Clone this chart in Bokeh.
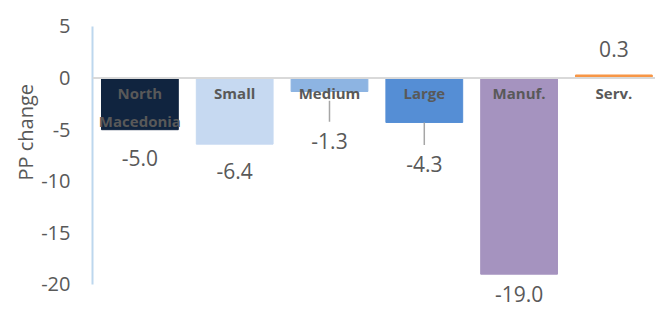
from bokeh.plotting import figure
from bokeh.models import Range1d, Span, Title, FixedTicker, ColumnDataSource
from bokeh.core.properties import value
from bokeh.embed import file_html
from bokeh.resources import INLINE

# ---- data ----
categories = ["North\nMacedonia", "Small", "Medium", "Large", "Manuf.", "Serv."]
pp_change = [-5.0, -6.4, -1.3, -4.3, -19.0, 0.3]
y_ticks = [-20, -15, -10, -5, 0, 5]
y_tick_labels = ["-20", "-15", "-10", "-5", "0", "5"]

# ---- styles ----
bar_colors = ["#10243F", "#C6D9F1", "#8DB4E2", "#558ED5", "#A593BF", "#F79646"]
label_shift = [-2.75, -2.61, -4.78, -4.03, -1.95, 2.51]   # manual label placement (data units)
has_leader = [False, False, True, True, False, False]
FONT = "Open Sans"
TXT = "#595959"

xs = [i + 0.5 for i in range(len(categories))]
label_y = [v + s for v, s in zip(pp_change, label_shift)]
value_txt = [f"{v:.1f}" for v in pp_change]

src = ColumnDataSource(dict(x=xs, top=pp_change, color=bar_colors, cat=categories,
                            ly=label_y, lt=value_txt))

p = figure(width=655, height=310, output_backend="svg", toolbar_location=None,
           x_range=Range1d(0, 5.939), y_range=Range1d(-22.52, 6.55),
           min_border_left=92, min_border_right=0, min_border_top=10, min_border_bottom=0)
p.outline_line_color = None
p.grid.visible = False
p.xaxis.visible = False
p.background_fill_color = "white"

yax = p.yaxis[0]
yax.ticker = FixedTicker(ticks=y_ticks)
yax.major_label_overrides = {t: s for t, s in zip(y_ticks, y_tick_labels)}
yax.bounds = (-20, 5)
yax.axis_line_color = "#BDD7EE"
yax.axis_line_width = 2
yax.major_tick_line_color = None
yax.minor_tick_line_color = None
yax.major_tick_in = 0
yax.major_tick_out = 0
yax.major_label_standoff = 22
yax.major_label_text_font = FONT
yax.major_label_text_font_size = "20px"
yax.major_label_text_color = TXT

p.vbar(x="x", top="top", bottom=0, width=0.81, color="color", source=src)

p.add_layout(Span(location=0, dimension="width", line_color="#D9D9D9", line_width=2))

# leader lines
lx, l0, l1 = [], [], []
for x, v, ly, hl in zip(xs, pp_change, label_y, has_leader):
    if hl:
        lx.append(x)
        l0.append(min(v, -2.2))
        l1.append(ly + 1.85)
p.segment(x0=lx, x1=lx, y0=l0, y1=l1, line_color="#A6A6A6", line_width=1.5)

# category names inside bars
p.text(x="x", y=0, text="cat", source=src, y_offset=5, text_align="center",
       text_baseline="top", text_font=value(FONT), text_font_style="bold",
       text_font_size="15px", text_color=TXT, text_line_height=1.4)

# value labels
p.text(x="x", y="ly", text="lt", source=src, text_align="center",
       text_baseline="middle", text_font=value(FONT), text_font_size="21px",
       text_color=TXT)

p.add_layout(Title(text="PP change", align="left", offset=130, text_font=FONT,
                   text_font_size="20px", text_font_style="normal",
                   text_color=TXT, standoff=0), "left")

open("out.html", "w").write(file_html(p, INLINE))
